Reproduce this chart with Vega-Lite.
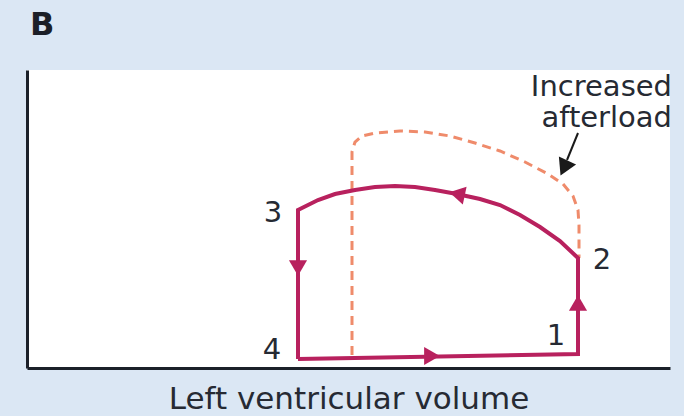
{
  "$schema": "https://vega.github.io/schema/vega-lite/v6.json",
  "autosize": {"type": "none"},
  "padding": {"left": 27, "top": 70, "right": 14, "bottom": 48},
  "width": 643,
  "height": 298,
  "background": "#dbe7f4",
  "datasets": {
    "dashed": [
      {"i": 0, "v": 325, "p": 13},
      {"i": 1, "v": 325, "p": 216},
      {"i": 2, "v": 328, "p": 226},
      {"i": 3, "v": 335, "p": 232},
      {"i": 4, "v": 348, "p": 235},
      {"i": 5, "v": 373, "p": 237},
      {"i": 6, "v": 398, "p": 236},
      {"i": 7, "v": 423, "p": 232},
      {"i": 8, "v": 448, "p": 225},
      {"i": 9, "v": 473, "p": 217},
      {"i": 10, "v": 498, "p": 206},
      {"i": 11, "v": 521, "p": 194},
      {"i": 12, "v": 536, "p": 184},
      {"i": 13, "v": 546, "p": 172},
      {"i": 14, "v": 551, "p": 158},
      {"i": 15, "v": 552, "p": 143},
      {"i": 16, "v": 552, "p": 110}
    ],
    "loop": [
      {"i": 0, "v": 271, "p": 9},
      {"i": 1, "v": 551, "p": 14},
      {"i": 2, "v": 551, "p": 110},
      {"i": 3, "v": 533, "p": 127},
      {"i": 4, "v": 513, "p": 141},
      {"i": 5, "v": 493, "p": 153},
      {"i": 6, "v": 473, "p": 163},
      {"i": 7, "v": 453, "p": 169},
      {"i": 8, "v": 430, "p": 174},
      {"i": 9, "v": 408, "p": 178},
      {"i": 10, "v": 388, "p": 181},
      {"i": 11, "v": 368, "p": 182},
      {"i": 12, "v": 348, "p": 181},
      {"i": 13, "v": 328, "p": 178},
      {"i": 14, "v": 308, "p": 174},
      {"i": 15, "v": 291, "p": 168},
      {"i": 16, "v": 271, "p": 158},
      {"i": 17, "v": 271, "p": 9}
    ],
    "heads": [
      {"v": 271, "p": 100, "dir": 180},
      {"v": 405, "p": 12, "dir": 90},
      {"v": 551, "p": 65, "dir": 0},
      {"v": 430, "p": 174, "dir": 282}
    ],
    "pointer": [
      {"i": 0, "v": 551, "p": 235},
      {"i": 1, "v": 540, "p": 208}
    ],
    "pointerHead": [
      {"v": 537, "p": 200, "dir": 205}
    ],
    "labels": [
      {"v": 246, "p": 155, "t": "3"},
      {"v": 245, "p": 18, "t": "4"},
      {"v": 529, "p": 32, "t": "1"},
      {"v": 575, "p": 108, "t": "2"}
    ],
    "note": [
      {"v": 645, "p": 272, "t": "Increased"},
      {"v": 645, "p": 241, "t": "afterload"}
    ],
    "panel": [
      {"v": 3, "p": 333, "t": "B"}
    ]
  },
  "layer": [
    {
      "data": {"name": "dashed"},
      "mark": {"type": "line", "color": "#ef8b6b", "strokeWidth": 3, "strokeDash": [9, 6], "interpolate": "linear"},
      "encoding": {
        "x": {
          "field": "v",
          "type": "quantitative",
          "scale": {"domain": [0, 643], "nice": false, "zero": false},
          "axis": {
            "title": "Left ventricular volume",
            "domain": true,
            "domainColor": "#1b2029",
            "domainWidth": 3,
            "ticks": false,
            "labels": false,
            "grid": false,
            "titleFont": "DejaVu Sans",
            "titleFontSize": 31,
            "titleFontWeight": "normal",
            "titleColor": "#262a33",
            "titleBaseline": "alphabetic",
            "titlePadding": 40
          }
        },
        "y": {
          "field": "p",
          "type": "quantitative",
          "scale": {"domain": [0, 298], "nice": false, "zero": false},
          "axis": {
            "title": null,
            "domain": true,
            "domainColor": "#1b2029",
            "domainWidth": 3,
            "ticks": false,
            "labels": false,
            "grid": false
          }
        },
        "order": {"field": "i", "type": "quantitative"}
      }
    },
    {
      "data": {"name": "loop"},
      "mark": {"type": "line", "color": "#b8215e", "strokeWidth": 4, "strokeJoin": "miter", "interpolate": "linear"},
      "encoding": {
        "x": {"field": "v", "type": "quantitative"},
        "y": {"field": "p", "type": "quantitative"},
        "order": {"field": "i", "type": "quantitative"}
      }
    },
    {
      "data": {"name": "heads"},
      "mark": {"type": "point", "shape": "triangle-up", "filled": true, "color": "#b8215e", "opacity": 1, "size": 330},
      "encoding": {
        "x": {"field": "v", "type": "quantitative"},
        "y": {"field": "p", "type": "quantitative"},
        "angle": {"field": "dir", "type": "quantitative", "scale": null}
      }
    },
    {
      "data": {"name": "pointer"},
      "mark": {"type": "line", "color": "#1a1a1a", "strokeWidth": 2},
      "encoding": {
        "x": {"field": "v", "type": "quantitative"},
        "y": {"field": "p", "type": "quantitative"},
        "order": {"field": "i", "type": "quantitative"}
      }
    },
    {
      "data": {"name": "pointerHead"},
      "mark": {"type": "point", "shape": "triangle-up", "filled": true, "color": "#1a1a1a", "opacity": 1, "size": 360},
      "encoding": {
        "x": {"field": "v", "type": "quantitative"},
        "y": {"field": "p", "type": "quantitative"},
        "angle": {"field": "dir", "type": "quantitative", "scale": null}
      }
    },
    {
      "data": {"name": "labels"},
      "mark": {"type": "text", "font": "DejaVu Sans", "fontSize": 29, "color": "#262a33", "align": "center", "baseline": "middle"},
      "encoding": {
        "x": {"field": "v", "type": "quantitative"},
        "y": {"field": "p", "type": "quantitative"},
        "text": {"field": "t"}
      }
    },
    {
      "data": {"name": "note"},
      "mark": {"type": "text", "font": "DejaVu Sans", "fontSize": 29, "color": "#262a33", "align": "right", "baseline": "alphabetic"},
      "encoding": {
        "x": {"field": "v", "type": "quantitative"},
        "y": {"field": "p", "type": "quantitative"},
        "text": {"field": "t"}
      }
    },
    {
      "data": {"name": "panel"},
      "mark": {"type": "text", "font": "DejaVu Sans", "fontSize": 32, "fontWeight": "bold", "color": "#1b1f27", "align": "left", "baseline": "alphabetic"},
      "encoding": {
        "x": {"field": "v", "type": "quantitative"},
        "y": {"field": "p", "type": "quantitative"},
        "text": {"field": "t"}
      }
    }
  ],
  "config": {
    "view": {"fill": "white", "stroke": null}
  }
}
